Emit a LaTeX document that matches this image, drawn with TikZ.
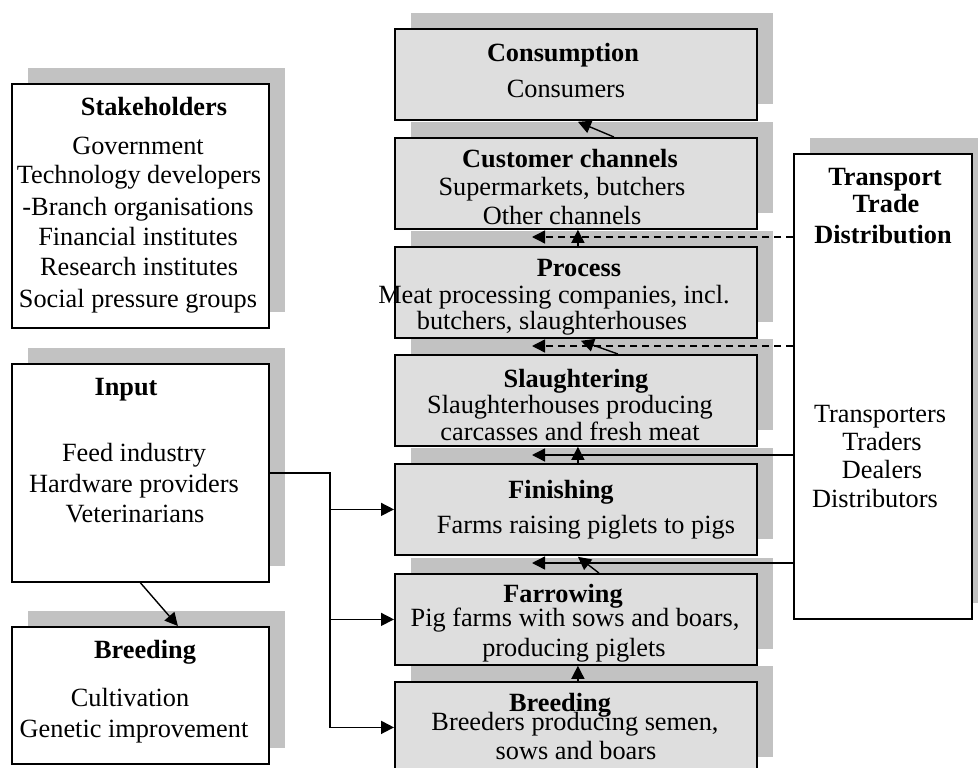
\documentclass[tikz,border=0pt]{standalone}
\usepackage{fontspec}
\setmainfont{Liberation Serif}
\usetikzlibrary{arrows.meta,shadows}
\begin{document}
\begin{tikzpicture}[x=1pt,y=-1pt,
  box/.style={draw=black,line width=1.8pt,rectangle,inner sep=0pt,anchor=north west,
    drop shadow={shadow xshift=16pt,shadow yshift=16pt,fill=black!24,opacity=1}},
  midbox/.style={box,fill=black!13,minimum width=362pt,minimum height=91pt},
  sidebox/.style={box,fill=white,minimum width=257pt},
  txt/.style={anchor=base,inner sep=0pt,font=\fontsize{26.3}{30}\selectfont},
  ttl/.style={txt,font=\fontsize{26.3}{30}\selectfont\bfseries},
  arr/.style={line width=1.4pt,-{Triangle[length=13pt,width=13pt]}},
  dsh/.style={arr,dash pattern=on 7pt off 5pt}
]
\useasboundingbox (0,0) rectangle (978,768);
% middle column
\node[midbox] (cons) at (394,28) {};
\node[midbox] (cust) at (394,137) {};
\node[midbox] (proc) at (394,246) {};
\node[midbox] (slau) at (394,354) {};
\node[midbox] (fini) at (394,463) {};
\node[midbox] (farr) at (394,573) {};
\node[midbox] (brdm) at (394,681) {};
% side boxes
\node[sidebox,minimum height=244pt] (stake) at (11,83) {};
\node[sidebox,minimum height=218pt] (input) at (11,363) {};
\node[sidebox,minimum height=137pt] (brdl) at (11,626) {};
\node[box,fill=white,minimum width=178pt,minimum height=465pt] (trans) at (793,153) {};
% texts middle
\node[ttl] (t1) at (563,62) {Consumption};
\node[txt] (t2) at (566,98) {Consumers};
\node[ttl] (t3) at (570,167) {Customer channels};
\node[txt] (t4) at (562,195) {Supermarkets, butchers};
\node[txt] (t5) at (562,224) {Other channels};
\node[ttl] (t6) at (579,276) {Process};
\node[txt] (t7) at (554,303) {Meat processing companies, incl.};
\node[txt] (t8) at (552,329) {butchers, slaughterhouses};
\node[ttl] (t9) at (576,387) {Slaughtering};
\node[txt] (t10) at (570,413) {Slaughterhouses producing};
\node[txt] (t11) at (570,440) {carcasses and fresh meat};
\node[ttl] (t12) at (561,498) {Finishing};
\node[txt] (t13) at (586,533) {Farms raising piglets to pigs};
\node[ttl] (t14) at (563,602) {Farrowing};
\node[txt] (t15) at (575,626) {Pig farms with sows and boars,};
\node[txt] (t16) at (574,656) {producing piglets};
\node[ttl] (t17) at (560,711) {Breeding};
\node[txt] (t18) at (575,730) {Breeders producing semen,};
\node[txt] (t19) at (576,759) {sows and boars};
% texts left
\node[ttl] (s0) at (154,115) {Stakeholders};
\node[txt] (s1) at (138,154) {Government};
\node[txt] (s2) at (139,183) {Technology developers};
\node[txt] (s3) at (138,215) {-Branch organisations};
\node[txt] (s4) at (138,245) {Financial institutes};
\node[txt] (s5) at (139,275) {Research institutes};
\node[txt] (s6) at (138,307) {Social pressure groups};
\node[ttl] (i0) at (126,395) {Input};
\node[txt] (i1) at (134,461) {Feed industry};
\node[txt] (i2) at (134,492) {Hardware providers};
\node[txt] (i3) at (135,522) {Veterinarians};
\node[ttl] (b0) at (145,658) {Breeding};
\node[txt] (b1) at (130,706) {Cultivation};
\node[txt] (b2) at (134,737) {Genetic improvement};
% texts right
\node[ttl] (r1) at (885,185) {Transport};
\node[ttl] (r2) at (886,212) {Trade};
\node[ttl] (r3) at (883,243) {Distribution};
\node[txt] (r4) at (880,422) {Transporters};
\node[txt] (r5) at (882,450) {Traders};
\node[txt] (r6) at (882,478) {Dealers};
\node[txt] (r7) at (875,507) {Distributors};
% connectors middle
\draw[arr] ([xshift=38pt]cust.north) -- ([xshift=2pt,yshift=-1pt]cons.south);
\draw[arr] ([xshift=2pt]proc.north) -- ([xshift=2pt]cust.south);
\draw[arr] ([xshift=42pt]slau.north) -- ([xshift=5pt,yshift=-2pt]proc.south);
\draw[arr] ([xshift=2pt]fini.north) -- ([xshift=2pt]slau.south);
\draw[arr] ([xshift=23pt]farr.north) -- ([xshift=2pt,yshift=-1pt]fini.south);
\draw[arr] ([xshift=2pt]brdm.north) -- ([xshift=2pt]farr.south);
% transport links
\coordinate (d1) at (532,237);
\coordinate (d2) at (532,346);
\coordinate (d3) at (532,455);
\coordinate (d4) at (532,563);
\draw[dsh] (d1 -| trans.west) -- (d1);
\draw[dsh] (d2 -| trans.west) -- (d2);
\draw[arr] (d3 -| trans.west) -- (d3);
\draw[arr] (d4 -| trans.west) -- (d4);
% input links
\coordinate (jx) at (330,0);
\draw[arr,line width=1.8pt] (input.east) -| (jx |- brdm.west) -- (brdm.west);
\draw[arr] (jx |- fini.west) -- (fini.west);
\draw[arr] (jx |- farr.west) -- (farr.west);
\draw[arr] (input.south) -- ([xshift=37.5pt]brdl.north);
\end{tikzpicture}
\end{document}
